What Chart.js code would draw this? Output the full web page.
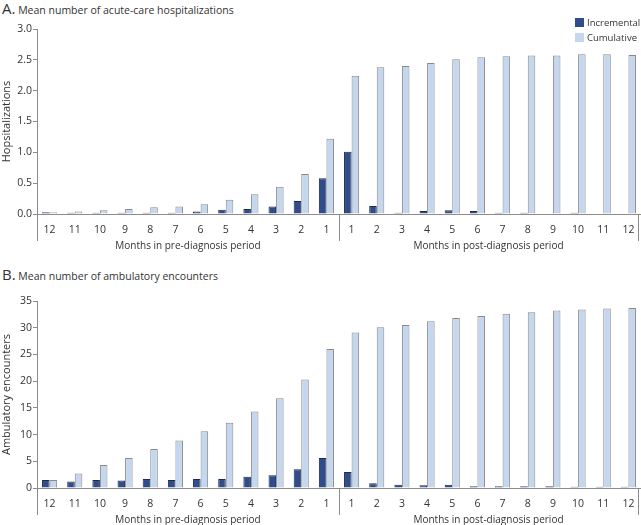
<!DOCTYPE html>
<html>
<head>
<meta charset="utf-8">
<script src="https://cdn.jsdelivr.net/npm/chart.js@4.4.1/dist/chart.umd.min.js"></script>
<style>
    body { margin: 0; background: #fff; font-family: 'Open Sans', sans-serif; color: #333; }
    #wrap { position: relative; width: 641px; height: 525px; overflow: hidden; }
    canvas { position: absolute; left: 0; }
    .titulo { position: absolute; left: 2px; font-size: 10.5px; line-height: 16px; white-space: nowrap; }
    .titulo span { font-size: 15px; }
    #leyenda { position: absolute; left: 575px; top: 18px; font-size: 9.5px; }
    .item { height: 15px; line-height: 10px; white-space: nowrap; }
    .caja { display: inline-block; width: 9px; height: 9px; margin-right: 3px; vertical-align: top; }
</style>
</head>
<body>
<div id="wrap">
    <div class="titulo" style="top:0px"><span>A.</span> Mean number of acute-care hospitalizations</div>
    <div class="titulo" style="top:266px"><span>B.</span> Mean number of ambulatory encounters</div>
    <canvas id="canvaHosp" width="641" height="260" style="top:0px"></canvas>
    <canvas id="canvaAmb" width="641" height="265" style="top:260px"></canvas>
    <div id="leyenda"></div>
</div>
<script>
const mesesPre = ['12', '11', '10', '9', '8', '7', '6', '5', '4', '3', '2', '1'];
const mesesPost = ['1', '2', '3', '4', '5', '6', '7', '8', '9', '10', '11', '12'];
const grupos = ['Months in pre-diagnosis period', 'Months in post-diagnosis period'];
const series = ['Incremental', 'Cumulative'];

// A. hospitalizaciones (pre 12..1, luego post 1..12)
const hospIncremental = [0.03, 0.02, 0.02, 0.02, 0.02, 0.02, 0.04, 0.07, 0.08, 0.12, 0.21, 0.58,
                         1.01, 0.13, 0.02, 0.05, 0.06, 0.05, 0.02, 0.02, 0.01, 0.02, 0, 0];
const hospCumulative = [0.03, 0.04, 0.06, 0.08, 0.11, 0.12, 0.16, 0.23, 0.32, 0.44, 0.65, 1.22,
                        2.24, 2.38, 2.40, 2.45, 2.51, 2.54, 2.56, 2.57, 2.57, 2.59, 2.59, 2.58];
const hospTicks = { max: 3, step: 0.5, decimales: 1 };

// B. consultas ambulatorias
const ambIncremental = [1.5, 1.2, 1.5, 1.4, 1.7, 1.5, 1.7, 1.7, 2.1, 2.4, 3.5, 5.6,
                        3.0, 0.9, 0.6, 0.5, 0.6, 0.35, 0.35, 0.35, 0.35, 0.25, 0.25, 0.25];
const ambCumulative = [1.5, 2.7, 4.3, 5.6, 7.3, 8.9, 10.6, 12.2, 14.3, 16.8, 20.3, 26.0,
                       29.1, 30.1, 30.5, 31.2, 31.8, 32.2, 32.6, 32.9, 33.2, 33.4, 33.6, 33.7];
const ambTicks = { max: 35, step: 5, decimales: 0 };

const colores = ['#2f4d8b', '#c5d7ee'];
const bordes = ['#1d2b4d', '#8a8a8a'];
const gris = '#8c8c8c';

Chart.defaults.font.family = "'Open Sans', sans-serif";
Chart.defaults.font.size = 10.5;
Chart.defaults.color = '#333';

// lineas verticales bajo el eje x y titulos de cada periodo
const separadores = {
    id: 'separadores',
    afterDraw(chart) {
        const ctx = chart.ctx;
        const x = chart.scales.x;
        const medio = (x.getPixelForValue(mesesPre.length - 1) + x.getPixelForValue(mesesPre.length)) / 2;
        const lineas = [chart.chartArea.left, medio, x.right - 3];
        ctx.save();
        ctx.strokeStyle = gris;
        ctx.lineWidth = 1;
        lineas.forEach(px => {
            const p = Math.round(px) + 0.5;
            ctx.beginPath();
            ctx.moveTo(p, x.top);
            ctx.lineTo(p, x.top + 27);
            ctx.stroke();
        });
        ctx.fillStyle = '#333';
        ctx.font = "10px 'Open Sans', sans-serif";
        ctx.textAlign = 'center';
        ctx.textBaseline = 'middle';
        ctx.fillText(grupos[0], (lineas[0] + lineas[1]) / 2, x.top + 32);
        ctx.fillText(grupos[1], (lineas[1] + lineas[2]) / 2, x.top + 32);
        ctx.restore();
    }
};

function crearGrafico(elementoID, incremental, cumulative, tituloY, ticks, arriba, altoEjeX) {
    const canvas = document.getElementById(elementoID).getContext('2d');
    return new Chart(canvas, {
        type: 'bar',
        data: {
            labels: [...mesesPre, ...mesesPost],
            datasets: [incremental, cumulative].map((valores, i) => ({
                label: series[i],
                data: valores,
                backgroundColor: colores[i],
                borderColor: bordes[i],
                borderWidth: 1,
                categoryPercentage: 0.6,
                barPercentage: 1
            }))
        },
        options: {
            responsive: false,
            animation: false,
            layout: { padding: { top: arriba, right: 0, left: 0, bottom: 0 } },
            plugins: {
                legend: { display: false },
                tooltip: { enabled: false }
            },
            scales: {
                x: {
                    grid: { display: false },
                    border: { display: true, color: gris },
                    ticks: { padding: 2, maxRotation: 0, autoSkip: false, color: '#333' },
                    afterFit: scale => { scale.height = altoEjeX; }
                },
                y: {
                    min: 0,
                    max: ticks.max,
                    grid: { drawOnChartArea: false, drawTicks: true, tickLength: 4, color: gris },
                    border: { display: true, color: gris },
                    ticks: {
                        stepSize: ticks.step,
                        padding: 1,
                        color: '#333',
                        callback: v => Number(v).toFixed(ticks.decimales)
                    },
                    title: {
                        display: true,
                        text: tituloY,
                        font: { size: 11 },
                        color: '#333',
                        padding: { top: 0, bottom: 0 }
                    },
                    afterFit: scale => { scale.width = 37; }
                }
            }
        },
        plugins: [separadores]
    });
}

const graficoHosp = crearGrafico('canvaHosp', hospIncremental, hospCumulative, 'Hopsitalizations', hospTicks, 29, 46);
const graficoAmb = crearGrafico('canvaAmb', ambIncremental, ambCumulative, 'Ambulatory encounters', ambTicks, 41, 37);

// leyenda solo en el panel A
const leyenda = document.getElementById('leyenda');
graficoHosp.data.datasets.forEach(ds => {
    const item = document.createElement('div');
    item.className = 'item';
    item.innerHTML = '<span class="caja" style="background:' + ds.backgroundColor + '"></span>' + ds.label;
    leyenda.appendChild(item);
});
</script>
</body>
</html>
